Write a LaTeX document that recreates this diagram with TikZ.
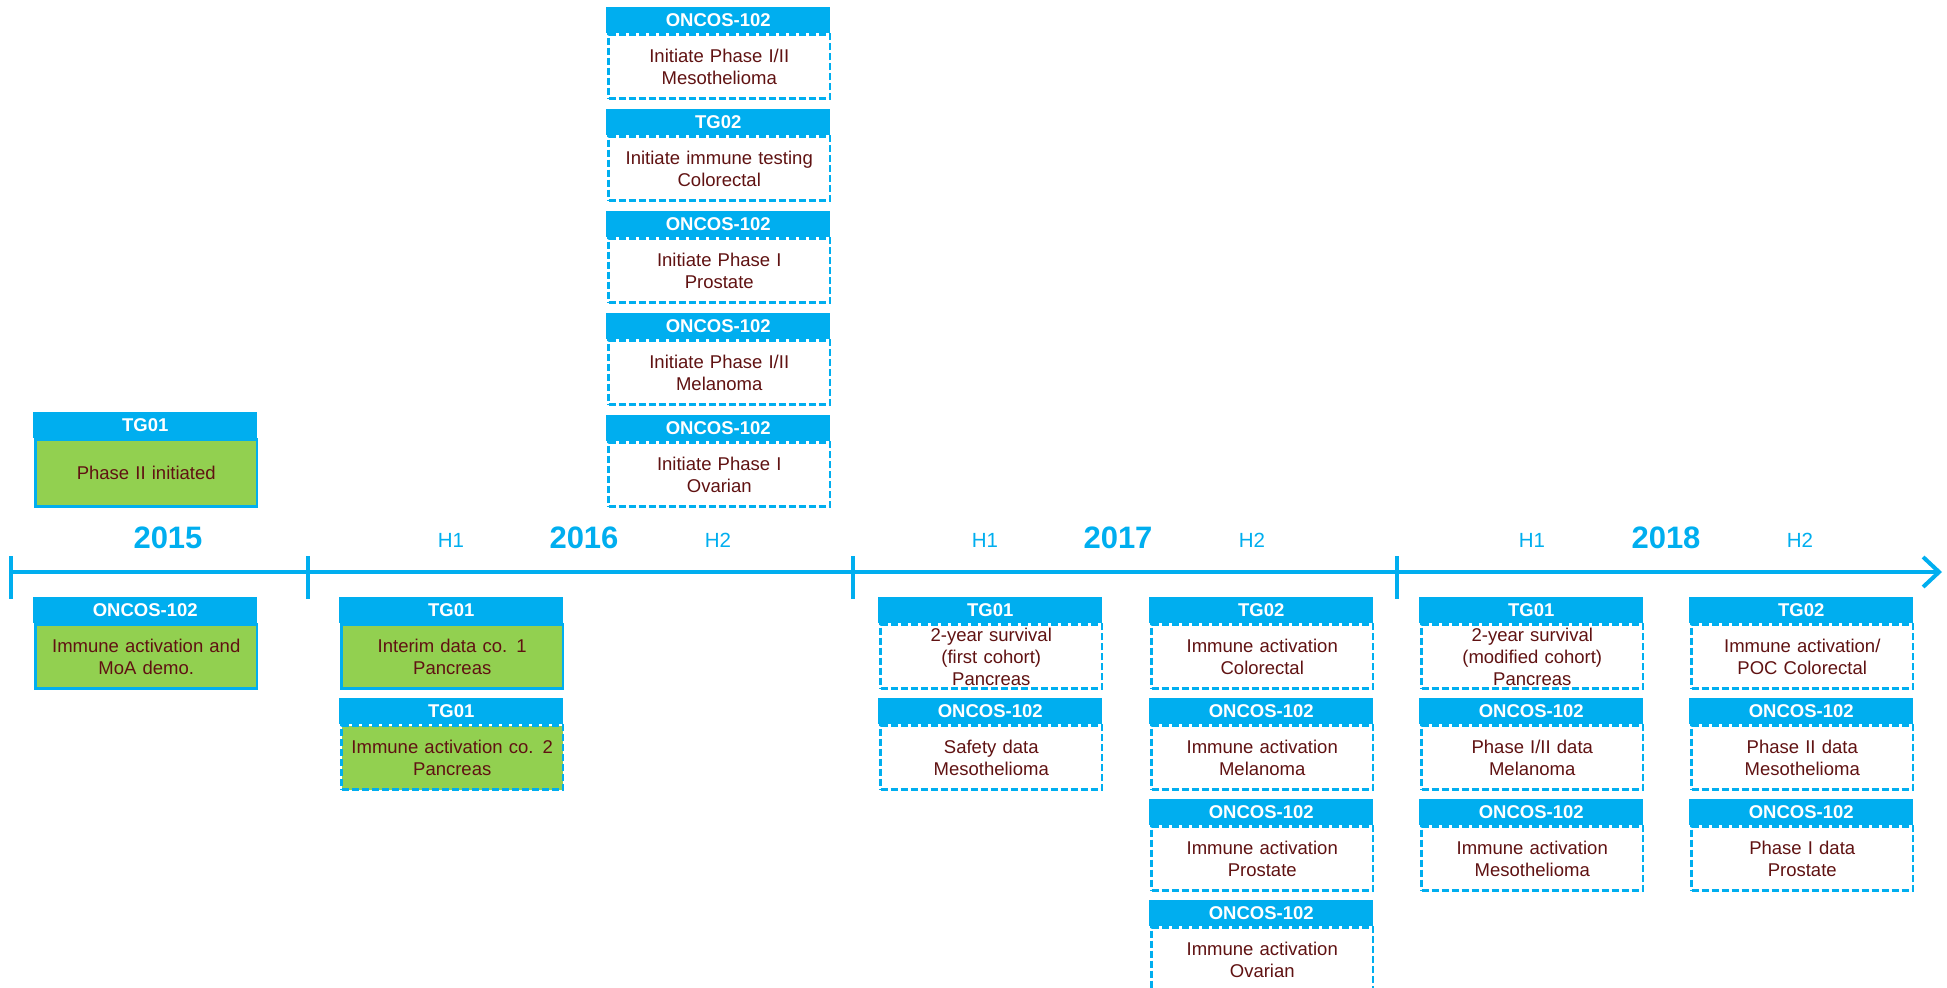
\documentclass[tikz,border=0pt]{standalone}
\usepackage{fontspec}
\setmainfont{Liberation Sans}
\usetikzlibrary{arrows.meta}
\definecolor{cy}{RGB}{0,174,239}
\definecolor{gr}{RGB}{146,208,80}
\definecolor{dred}{RGB}{96,18,18}
\tikzset{
  hdr/.style={fill=cy, inner sep=0pt, minimum width=224pt, minimum height=26pt, text=white,
    font=\fontsize{18.5}{22}\selectfont\bfseries},
  bodybase/.style={inner sep=0pt, minimum width=221.5pt, minimum height=64pt, text width=218pt,
    align=center, text=dred, font=\fontsize{18.5}{22}\selectfont, line width=2.5pt, draw=cy},
  dashbox/.style={bodybase, fill=white, dash pattern=on 7pt off 3pt},
  greendash/.style={bodybase, fill=gr, dash pattern=on 7pt off 3pt},
  greensolid/.style={bodybase, fill=gr},
  axisline/.style={draw=cy, line width=4pt},
  yearlbl/.style={text=cy, font=\fontsize{31}{31}\selectfont\bfseries},
  halflbl/.style={text=cy, font=\fontsize{20.5}{22}\selectfont},
}
\newcommand\evt[6]{%
  \node[hdr, anchor=north west] (#1h) at (#2,#3) {#4};
  \node[#6, anchor=north west] (#1b) at ([xshift=1.25pt]#1h.south west) {#5};
  \node[hdr, anchor=north west] at (#2,#3) {#4};
}
\begin{document}
\begin{tikzpicture}[x=1pt,y=-1pt]
\useasboundingbox (0,0) rectangle (1947,988);
% timeline
\coordinate (t0) at (11,572);
\coordinate (tend) at (1942,572);
\draw[axisline, -{Straight Barb[length=16pt,width=30pt]}] (t0) -- (tend);
\foreach \x/\n in {11/a,308/b,853/c,1397/d}{
  \coordinate (tk\n1) at (\x,556);
  \coordinate (tk\n2) at (\x,599);
  \draw[axisline] (tk\n1) -- (tk\n2);
}
% labels
\node[yearlbl] (y15) at (168,538) {2015};
\node[halflbl] (h161) at (451,540) {H1};
\node[yearlbl] (y16) at (584,538) {2016};
\node[halflbl] (h162) at (718,540) {H2};
\node[halflbl] (h171) at (985,540) {H1};
\node[yearlbl] (y17) at (1118,538) {2017};
\node[halflbl] (h172) at (1252,540) {H2};
\node[halflbl] (h181) at (1532,540) {H1};
\node[yearlbl] (y18) at (1666,538) {2018};
\node[halflbl] (h182) at (1800,540) {H2};
% top left
\node[hdr, anchor=north west] (tlh) at (33,412) {TG01};
\node[greensolid, minimum height=67pt, anchor=north west] (tlb) at ([xshift=1.25pt]tlh.south west) {Phase II initiated};
\node[hdr, anchor=north west] at (33,412) {TG01};
% top column 2016
\evt{ta}{606}{7}{ONCOS-102}{Initiate Phase I/II\\Mesothelioma}{dashbox}
\evt{tb}{606}{109}{TG02}{Initiate immune testing\\Colorectal}{dashbox}
\evt{tc}{606}{211}{ONCOS-102}{Initiate Phase I\\Prostate}{dashbox}
\evt{td}{606}{313}{ONCOS-102}{Initiate Phase I/II\\Melanoma}{dashbox}
\evt{te}{606}{415}{ONCOS-102}{Initiate Phase I\\Ovarian}{dashbox}
% 2015 below
\evt{ba}{33}{597}{ONCOS-102}{Immune activation and\\MoA demo.}{greensolid}
% 2016 H1
\evt{ca}{339}{597}{TG01}{Interim data co. 1\\Pancreas}{greensolid}
\evt{cb}{339}{698}{TG01}{Immune activation co. 2\\Pancreas}{greendash}
% 2017 H1
\evt{da}{878}{597}{TG01}{2-year survival\\(first cohort)\\Pancreas}{dashbox}
\evt{db}{878}{698}{ONCOS-102}{Safety data\\Mesothelioma}{dashbox}
% 2017 H2
\evt{ea}{1149}{597}{TG02}{Immune activation\\Colorectal}{dashbox}
\evt{eb}{1149}{698}{ONCOS-102}{Immune activation\\Melanoma}{dashbox}
\evt{ec}{1149}{799}{ONCOS-102}{Immune activation\\Prostate}{dashbox}
\evt{ed}{1149}{900}{ONCOS-102}{Immune activation\\Ovarian}{dashbox}
% 2018 H1
\evt{fa}{1419}{597}{TG01}{2-year survival\\(modified cohort)\\Pancreas}{dashbox}
\evt{fb}{1419}{698}{ONCOS-102}{Phase I/II data\\Melanoma}{dashbox}
\evt{fc}{1419}{799}{ONCOS-102}{Immune activation\\Mesothelioma}{dashbox}
% 2018 H2
\evt{ga}{1689}{597}{TG02}{Immune activation/\\POC Colorectal}{dashbox}
\evt{gb}{1689}{698}{ONCOS-102}{Phase II data\\Mesothelioma}{dashbox}
\evt{gc}{1689}{799}{ONCOS-102}{Phase I data\\Prostate}{dashbox}
\end{tikzpicture}
\end{document}
